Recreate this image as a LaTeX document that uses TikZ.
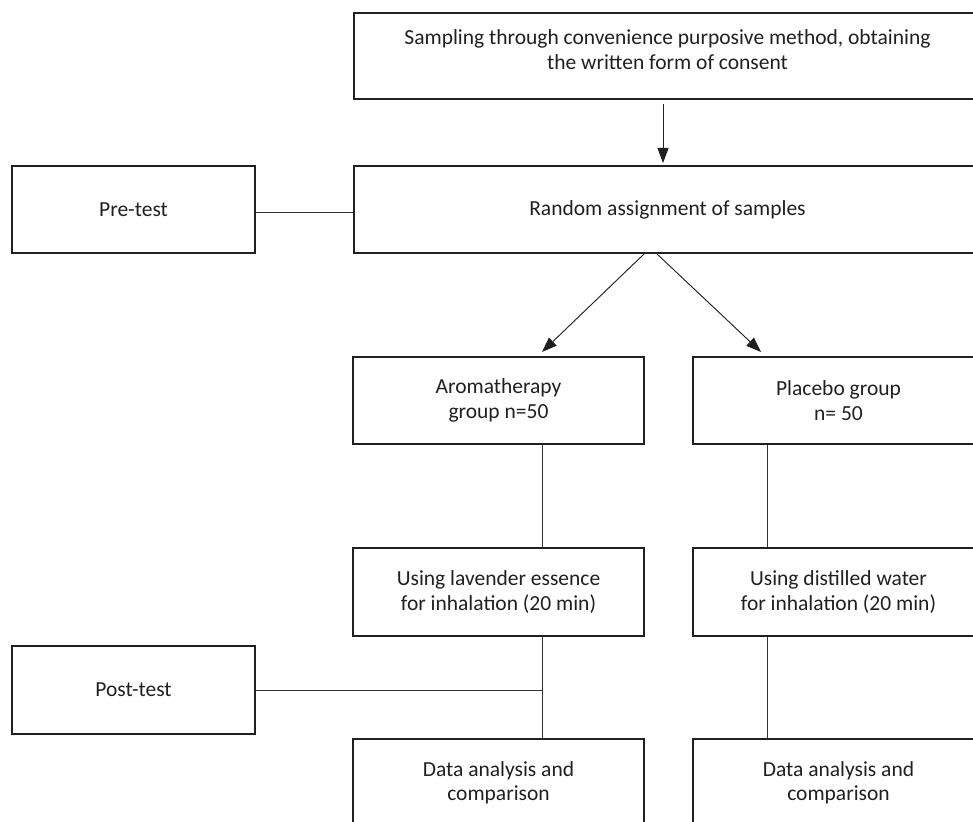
\documentclass[tikz,border=0pt]{standalone}
\usepackage{fontspec}
\setmainfont{Carlito}
\usetikzlibrary{arrows.meta}
\definecolor{ink}{HTML}{231F20}
\definecolor{wire}{HTML}{333333}
\tikzset{
  box/.style={draw=ink, line width=2pt, rectangle, align=center, text=ink,
    font=\fontsize{21.5}{24.5}\selectfont, inner sep=0pt, minimum height=87pt},
  wideb/.style={box, minimum width=627pt},
  sideb/.style={box, minimum width=243pt},
  colb/.style={box, minimum width=291pt},
  link/.style={draw=wire, line width=0.9pt},
  arr/.style={link, -{Triangle[length=15pt,width=11pt]}, draw=ink, fill=ink}
}
\begin{document}
\begin{tikzpicture}[x=1pt, y=-1pt]
\useasboundingbox (0,0) rectangle (973,821);
\clip (0,0) rectangle (973,821);
\fill[white] (0,0) rectangle (973,821);

\node[wideb, minimum height=86pt] (top) at (667.5,56)
  {\raisebox{4pt}[\height][\depth]{\begin{tabular}{@{}c@{}}Sampling through convenience purposive method, obtaining\\the written form of consent\end{tabular}}};
\node[wideb] (rand) at (667.5,209.5) {Random assignment of samples};
\node[sideb] (pre) at (133.5,209.5) {Pre-test};

\node[colb] (aroma) at (498.5,400.5) {Aromatherapy\\group n=50};
\node[colb] (plac) at (838.5,400.5) {Placebo group\\n= 50};

\node[colb, minimum height=88pt] (lav) at (498.5,592) {Using lavender essence\\for inhalation (20 min)};
\node[colb, minimum height=88pt] (dist) at (838.5,592) {Using distilled water\\for inhalation (20 min)};

\node[sideb, minimum height=88pt] (post) at (133.5,690) {Post-test};

\node[colb, minimum height=88pt] (dataL) at (498.5,783) {Data analysis and\\comparison};
\node[colb, minimum height=88pt] (dataR) at (838.5,783) {Data analysis and\\comparison};

% connectors
\draw[arr] ([xshift=-4.5pt,yshift=-4pt]top.south) -- ([xshift=-4.5pt,yshift=2pt]rand.north);
\draw[link] ([yshift=-2.5pt]pre.east) -- ([yshift=-2.5pt]rand.west);
\draw[arr] ([xshift=-23.5pt]rand.south) -- ([xshift=43.5pt,yshift=4pt]aroma.north);
\draw[arr] ([xshift=-10.5pt]rand.south) -- ([xshift=-77.5pt,yshift=4pt]plac.north);
\draw[link] ([xshift=43.5pt]aroma.south) -- ([xshift=43.5pt]lav.north);
\draw[link] ([xshift=43.5pt]lav.south) -- ([xshift=43.5pt]dataL.north);
\draw[link] ([xshift=-71.5pt]plac.south) -- ([xshift=-71.5pt]dist.north);
\draw[link] ([xshift=-71.5pt]dist.south) -- ([xshift=-71.5pt]dataR.north);
\draw[link] (post.east) -- ([xshift=43.5pt]lav.south |- post.east);
\end{tikzpicture}
\end{document}
